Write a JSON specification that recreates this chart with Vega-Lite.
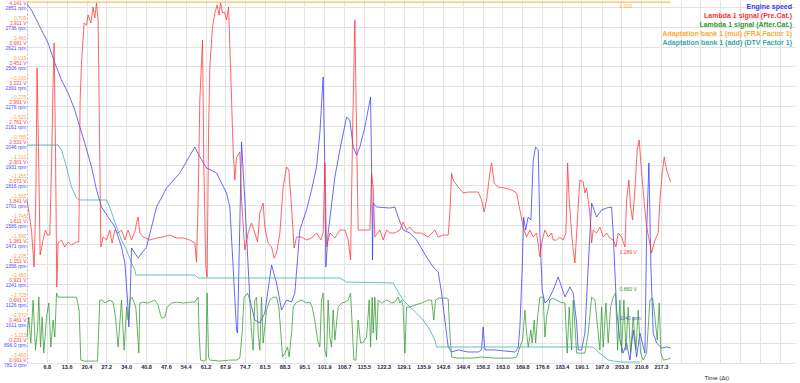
{
"$schema": "https://vega.github.io/schema/vega-lite/v6.json",
"width": 768, "height": 363,
"autosize": {"type": "none"},
"padding": {"left": 27, "top": 0, "right": 5, "bottom": 20},
"background": "white",
"config": {"view": {"stroke": null}, "font": "Liberation Sans"},
"datasets": {
"rpm": [{"t":0,"v":2868},{"t":1.54,"v":2833},{"t":3.26,"v":2775},{"t":4.97,"v":2717},{"t":7.24,"v":2641},{"t":9.53,"v":2525},{"t":11.83,"v":2426},{"t":14.09,"v":2351},{"t":16.39,"v":2252},{"t":18.11,"v":2153},{"t":19.82,"v":2060},{"t":22.12,"v":1921},{"t":23.83,"v":1787},{"t":25.55,"v":1688},{"t":27.81,"v":1630},{"t":30.11,"v":1572},{"t":32.4,"v":1455},{"t":33.54,"v":1362},{"t":34.46,"v":1147},{"t":34.91,"v":990},{"t":35.35,"v":1147},{"t":35.83,"v":1450},{"t":36.96,"v":1421},{"t":38.1,"v":1391},{"t":40.98,"v":1455},{"t":44.41,"v":1688},{"t":47.83,"v":1798},{"t":52.4,"v":1886},{"t":57.54,"v":2037},{"t":59.25,"v":1979},{"t":61.55,"v":1915},{"t":64.98,"v":1886},{"t":68.41,"v":1769},{"t":69.54,"v":1688},{"t":70.67,"v":1339},{"t":71.84,"v":973},{"t":72.18,"v":955},{"t":73.55,"v":2066},{"t":74.68,"v":1729},{"t":76.4,"v":1147},{"t":78.11,"v":1031},{"t":79.83,"v":1014},{"t":81.54,"v":1072},{"t":83.84,"v":1351},{"t":85.55,"v":1246},{"t":87.27,"v":1089},{"t":88.98,"v":1147},{"t":90.7,"v":1136},{"t":91.83,"v":1188},{"t":93.54,"v":1554},{"t":95.84,"v":1671},{"t":97.56,"v":1787},{"t":99.27,"v":1921},{"t":100.4,"v":2118},{"t":101.53,"v":2444},{"t":102.12,"v":1921},{"t":102.46,"v":1339},{"t":103.25,"v":1537},{"t":105.55,"v":1862},{"t":107.26,"v":2019},{"t":109.56,"v":2211},{"t":110.69,"v":2194},{"t":111.82,"v":2037},{"t":112.99,"v":1990},{"t":114.12,"v":2037},{"t":115.83,"v":2153},{"t":117.79,"v":2328},{"t":118.13,"v":1921},{"t":118.47,"v":1380},{"t":118.68,"v":1711},{"t":119.84,"v":1688},{"t":124.4,"v":1682},{"t":126.12,"v":1688},{"t":127.25,"v":1630},{"t":128.96,"v":1554},{"t":131.26,"v":1537},{"t":133.56,"v":1496},{"t":136.99,"v":1397},{"t":139.25,"v":1339},{"t":140.97,"v":1310},{"t":142.13,"v":1188},{"t":143.26,"v":1031},{"t":144.4,"v":874},{"t":145.56,"v":845},{"t":147.83,"v":857},{"t":151.26,"v":845},{"t":154.69,"v":845},{"t":155.85,"v":857},{"t":156.4,"v":990},{"t":156.98,"v":857},{"t":160.41,"v":857},{"t":163.84,"v":851},{"t":167.27,"v":845},{"t":168.4,"v":868},{"t":168.99,"v":990},{"t":169.78,"v":1339},{"t":170.26,"v":1630},{"t":170.94,"v":1554},{"t":171.84,"v":1630},{"t":172.76,"v":1612},{"t":173.55,"v":1961},{"t":174.37,"v":2037},{"t":175.27,"v":2019},{"t":175.85,"v":1537},{"t":176.63,"v":1205},{"t":177.56,"v":1130},{"t":178.69,"v":1147},{"t":180.4,"v":1205},{"t":182.12,"v":1281},{"t":183.28,"v":1223},{"t":184.42,"v":1165},{"t":186.13,"v":1223},{"t":187.26,"v":1188},{"t":188.43,"v":1014},{"t":188.97,"v":857},{"t":190.14,"v":857},{"t":191.27,"v":955},{"t":192.4,"v":1339},{"t":193.57,"v":1711},{"t":195.28,"v":1630},{"t":197.0,"v":1671},{"t":198.71,"v":1682},{"t":200.43,"v":1688},{"t":200.97,"v":1537},{"t":202.14,"v":1089},{"t":203.28,"v":915},{"t":204.4,"v":839},{"t":205.57,"v":897},{"t":206.7,"v":798},{"t":207.83,"v":973},{"t":209.0,"v":816},{"t":210.13,"v":955},{"t":211.85,"v":839},{"t":212.43,"v":1537},{"t":213.21,"v":1944},{"t":213.9,"v":1339},{"t":214.69,"v":955},{"t":215.85,"v":897},{"t":217.57,"v":868},{"t":219.28,"v":874},{"t":220.66,"v":868}],
"pre": [{"t":0,"v":1.896},{"t":0.38,"v":1.815},{"t":1.54,"v":1.547},{"t":2.43,"v":1.117},{"t":3.02,"v":1.896},{"t":3.46,"v":3.431},{"t":4.05,"v":2.28},{"t":4.49,"v":1.257},{"t":5.52,"v":1.431},{"t":6.34,"v":1.547},{"t":7.03,"v":1.489},{"t":7.82,"v":1.489},{"t":8.4,"v":2.28},{"t":8.95,"v":3.257},{"t":9.29,"v":3.722},{"t":9.77,"v":2.478},{"t":10.22,"v":0.885},{"t":10.66,"v":1.396},{"t":11.83,"v":1.431},{"t":12.96,"v":1.35},{"t":14.09,"v":1.408},{"t":15.26,"v":1.373},{"t":16.97,"v":1.408},{"t":17.76,"v":1.408},{"t":18.21,"v":3.059},{"t":18.69,"v":3.489},{"t":19.58,"v":3.954},{"t":20.4,"v":3.931},{"t":20.95,"v":4.047},{"t":21.88,"v":3.954},{"t":22.67,"v":4.14},{"t":23.25,"v":4.013},{"t":23.83,"v":4.187},{"t":24.38,"v":3.989},{"t":24.86,"v":2.675},{"t":25.31,"v":1.35},{"t":26.09,"v":1.466},{"t":27.26,"v":1.431},{"t":28.39,"v":1.547},{"t":29.18,"v":1.396},{"t":30.11,"v":1.547},{"t":31.24,"v":1.513},{"t":32.4,"v":1.547},{"t":33.54,"v":1.431},{"t":34.67,"v":1.547},{"t":35.83,"v":1.431},{"t":36.96,"v":1.524},{"t":37.55,"v":1.629},{"t":38.1,"v":1.699},{"t":38.68,"v":1.513},{"t":39.81,"v":1.466},{"t":42.11,"v":1.431},{"t":44.41,"v":1.455},{"t":46.67,"v":1.466},{"t":48.97,"v":1.489},{"t":51.26,"v":1.455},{"t":53.53,"v":1.455},{"t":55.82,"v":1.431},{"t":57.54,"v":1.396},{"t":58.12,"v":1.175},{"t":58.67,"v":1.896},{"t":59.25,"v":3.059},{"t":60.18,"v":3.757},{"t":60.63,"v":2.28},{"t":61.31,"v":1.117},{"t":61.76,"v":1.001},{"t":62.24,"v":2.675},{"t":62.68,"v":3.443},{"t":63.61,"v":3.908},{"t":64.4,"v":4.071},{"t":65.19,"v":4.164},{"t":65.87,"v":4.047},{"t":66.35,"v":4.187},{"t":67.04,"v":4.071},{"t":67.72,"v":4.082},{"t":68.41,"v":3.989},{"t":69.1,"v":4.14},{"t":69.78,"v":3.443},{"t":70.67,"v":2.478},{"t":71.25,"v":2.129},{"t":71.84,"v":2.396},{"t":72.97,"v":2.454},{"t":73.55,"v":1.896},{"t":74.68,"v":1.315},{"t":75.82,"v":1.513},{"t":76.98,"v":1.629},{"t":78.11,"v":1.513},{"t":79.04,"v":1.408},{"t":79.83,"v":1.745},{"t":80.96,"v":1.861},{"t":81.54,"v":1.582},{"t":82.67,"v":1.396},{"t":83.84,"v":1.35},{"t":84.73,"v":1.222},{"t":85.55,"v":1.28},{"t":86.69,"v":1.513},{"t":87.82,"v":2.047},{"t":88.98,"v":2.28},{"t":89.77,"v":2.245},{"t":90.7,"v":1.815},{"t":91.59,"v":1.338},{"t":92.41,"v":1.466},{"t":94.13,"v":1.466},{"t":95.84,"v":1.431},{"t":97.56,"v":1.455},{"t":99.27,"v":1.513},{"t":100.74,"v":1.431},{"t":101.53,"v":1.513},{"t":102.12,"v":2.327},{"t":102.7,"v":1.35},{"t":103.83,"v":1.513},{"t":105.55,"v":1.455},{"t":107.26,"v":1.547},{"t":108.98,"v":1.547},{"t":110.11,"v":1.431},{"t":110.93,"v":1.199},{"t":111.62,"v":2.675},{"t":112.4,"v":3.989},{"t":112.99,"v":2.675},{"t":113.54,"v":1.547},{"t":116.42,"v":1.547},{"t":117.55,"v":1.547},{"t":118.13,"v":2.21},{"t":118.68,"v":2.047},{"t":119.26,"v":1.466},{"t":120.97,"v":1.547},{"t":122.11,"v":1.431},{"t":123.27,"v":1.547},{"t":124.4,"v":1.513},{"t":126.12,"v":1.513},{"t":127.83,"v":1.547},{"t":128.96,"v":1.64},{"t":130.13,"v":1.547},{"t":131.26,"v":1.582},{"t":132.97,"v":1.513},{"t":135.27,"v":1.513},{"t":137.54,"v":1.466},{"t":139.83,"v":1.547},{"t":140.97,"v":1.466},{"t":142.68,"v":1.489},{"t":144.4,"v":1.489},{"t":144.98,"v":1.745},{"t":145.56,"v":2.21},{"t":146.11,"v":2.129},{"t":147.83,"v":2.047},{"t":149.54,"v":1.978},{"t":151.26,"v":1.989},{"t":154.69,"v":1.989},{"t":155.85,"v":1.896},{"t":156.74,"v":1.757},{"t":157.56,"v":1.896},{"t":158.69,"v":2.21},{"t":159.27,"v":2.327},{"t":160.17,"v":2.094},{"t":161.54,"v":2.047},{"t":163.84,"v":2.036},{"t":166.14,"v":2.013},{"t":167.85,"v":1.978},{"t":168.99,"v":1.78},{"t":170.12,"v":1.582},{"t":171.28,"v":1.466},{"t":172.41,"v":1.547},{"t":173.55,"v":1.466},{"t":174.71,"v":1.513},{"t":175.85,"v":1.234},{"t":176.63,"v":1.431},{"t":177.56,"v":1.547},{"t":178.69,"v":1.466},{"t":179.85,"v":1.513},{"t":180.4,"v":1.431},{"t":181.57,"v":1.431},{"t":182.7,"v":1.466},{"t":183.83,"v":1.431},{"t":184.76,"v":1.513},{"t":185.34,"v":2.327},{"t":185.89,"v":1.896},{"t":186.71,"v":1.513},{"t":187.26,"v":1.315},{"t":187.85,"v":1.164},{"t":188.97,"v":1.815},{"t":189.56,"v":2.129},{"t":190.69,"v":2.106},{"t":191.27,"v":1.978},{"t":191.85,"v":2.036},{"t":192.98,"v":1.745},{"t":193.57,"v":1.396},{"t":194.12,"v":1.547},{"t":195.28,"v":1.513},{"t":196.42,"v":1.582},{"t":197.55,"v":1.466},{"t":198.71,"v":1.513},{"t":199.84,"v":1.455},{"t":200.97,"v":1.431},{"t":201.9,"v":1.35},{"t":202.69,"v":1.513},{"t":203.85,"v":1.466},{"t":204.98,"v":1.35},{"t":205.57,"v":1.896},{"t":206.35,"v":2.129},{"t":206.94,"v":1.815},{"t":207.63,"v":1.664},{"t":208.42,"v":2.013},{"t":209.21,"v":2.478},{"t":209.89,"v":2.594},{"t":210.72,"v":2.21},{"t":211.51,"v":1.896},{"t":212.43,"v":1.582},{"t":213.32,"v":1.431},{"t":214.14,"v":1.28},{"t":215.28,"v":1.431},{"t":216.41,"v":1.513},{"t":216.99,"v":1.896},{"t":217.78,"v":2.21},{"t":218.47,"v":2.396},{"t":219.28,"v":2.245},{"t":220.66,"v":2.106}],
"post": [{"t":0,"v":0.302},{"t":0.62,"v":0.535},{"t":1.3,"v":0.233},{"t":2.09,"v":0.733},{"t":2.91,"v":0.151},{"t":3.6,"v":0.384},{"t":4.05,"v":0.767},{"t":4.63,"v":0.186},{"t":5.18,"v":0.535},{"t":5.76,"v":0.116},{"t":6.69,"v":0.535},{"t":7.48,"v":0.698},{"t":8.16,"v":0.186},{"t":8.95,"v":0.5},{"t":9.53,"v":0.302},{"t":10.12,"v":0.814},{"t":10.66,"v":0.767},{"t":12.96,"v":0.767},{"t":15.26,"v":0.767},{"t":16.97,"v":0.767},{"t":17.87,"v":0.616},{"t":18.45,"v":0.035},{"t":19.82,"v":0.023},{"t":22.12,"v":0.023},{"t":24.17,"v":0.023},{"t":24.96,"v":0.733},{"t":25.75,"v":0.733},{"t":26.68,"v":0.698},{"t":28.39,"v":0.733},{"t":29.52,"v":0.709},{"t":30.35,"v":0.535},{"t":31.24,"v":0.186},{"t":32.4,"v":0.733},{"t":33.3,"v":0.151},{"t":34.12,"v":0.651},{"t":34.67,"v":0.5},{"t":35.25,"v":0.733},{"t":36.04,"v":0.767},{"t":37.31,"v":0.651},{"t":37.89,"v":0.349},{"t":38.34,"v":0.116},{"t":38.68,"v":0.698},{"t":39.81,"v":0.709},{"t":41.53,"v":0.698},{"t":43.82,"v":0.733},{"t":44.95,"v":0.674},{"t":45.78,"v":0.558},{"t":46.33,"v":0.523},{"t":47.25,"v":0.535},{"t":48.04,"v":0.651},{"t":49.55,"v":0.698},{"t":51.26,"v":0.709},{"t":53.53,"v":0.698},{"t":55.82,"v":0.709},{"t":57.54,"v":0.709},{"t":58.67,"v":0.767},{"t":59.01,"v":0.349},{"t":59.49,"v":0.035},{"t":60.63,"v":0.023},{"t":61.31,"v":0.035},{"t":61.76,"v":0.814},{"t":62.24,"v":0.07},{"t":62.68,"v":0.035},{"t":66.11,"v":0.023},{"t":69.54,"v":0.035},{"t":71.84,"v":0.035},{"t":72.97,"v":0.058},{"t":73.76,"v":0.349},{"t":74.44,"v":0.767},{"t":75.61,"v":0.814},{"t":76.4,"v":0.733},{"t":76.98,"v":0.349},{"t":77.53,"v":0.151},{"t":78.11,"v":0.733},{"t":78.7,"v":0.767},{"t":79.25,"v":0.349},{"t":79.83,"v":0.151},{"t":80.41,"v":0.767},{"t":80.96,"v":0.233},{"t":82.12,"v":0.616},{"t":83.26,"v":0.733},{"t":84.39,"v":0.767},{"t":85.55,"v":0.767},{"t":86.34,"v":0.651},{"t":87.03,"v":0.349},{"t":87.61,"v":0.07},{"t":88.4,"v":0.116},{"t":89.32,"v":0.186},{"t":89.87,"v":0.07},{"t":90.7,"v":0.349},{"t":91.25,"v":0.651},{"t":92.41,"v":0.709},{"t":94.13,"v":0.733},{"t":95.84,"v":0.698},{"t":96.97,"v":0.709},{"t":97.76,"v":0.651},{"t":98.68,"v":0.5},{"t":99.61,"v":0.267},{"t":100.4,"v":0.186},{"t":100.98,"v":0.733},{"t":101.53,"v":0.814},{"t":102.12,"v":0.151},{"t":102.7,"v":0.07},{"t":103.25,"v":0.733},{"t":103.83,"v":0.302},{"t":104.41,"v":0.186},{"t":104.96,"v":0.616},{"t":105.55,"v":0.267},{"t":106.68,"v":0.651},{"t":107.84,"v":0.698},{"t":108.98,"v":0.709},{"t":110.11,"v":0.733},{"t":110.93,"v":0.814},{"t":111.62,"v":0.349},{"t":112.06,"v":0.035},{"t":112.75,"v":0.035},{"t":113.54,"v":0.5},{"t":114.36,"v":0.233},{"t":115.25,"v":0.244},{"t":116.42,"v":0.302},{"t":117.31,"v":0.733},{"t":117.79,"v":0.186},{"t":118.34,"v":0.767},{"t":118.68,"v":0.349},{"t":119.26,"v":0.767},{"t":119.84,"v":0.267},{"t":120.39,"v":0.733},{"t":121.55,"v":0.698},{"t":123.27,"v":0.733},{"t":124.99,"v":0.698},{"t":126.12,"v":0.709},{"t":127.25,"v":0.767},{"t":127.83,"v":0.698},{"t":128.42,"v":0.733},{"t":128.96,"v":0.651},{"t":129.55,"v":0.116},{"t":130.13,"v":0.651},{"t":131.26,"v":0.651},{"t":132.97,"v":0.674},{"t":135.27,"v":0.698},{"t":137.54,"v":0.733},{"t":138.7,"v":0.733},{"t":139.48,"v":0.5},{"t":140.07,"v":0.733},{"t":140.97,"v":0.756},{"t":143.85,"v":0.756},{"t":144.4,"v":0.744},{"t":144.98,"v":0.349},{"t":145.56,"v":0.07},{"t":147.83,"v":0.058},{"t":152.42,"v":0.058},{"t":155.85,"v":0.07},{"t":160.41,"v":0.058},{"t":166.14,"v":0.058},{"t":167.85,"v":0.07},{"t":168.99,"v":0.186},{"t":169.91,"v":0.267},{"t":170.7,"v":0.616},{"t":171.28,"v":0.349},{"t":171.84,"v":0.186},{"t":172.76,"v":0.384},{"t":173.2,"v":0.233},{"t":173.89,"v":0.5},{"t":174.37,"v":0.233},{"t":175.05,"v":0.535},{"t":175.85,"v":0.767},{"t":176.98,"v":0.767},{"t":177.56,"v":0.302},{"t":178.14,"v":0.535},{"t":179.27,"v":0.733},{"t":180.4,"v":0.756},{"t":182.7,"v":0.709},{"t":184.42,"v":0.698},{"t":185.2,"v":0.116},{"t":185.89,"v":0.651},{"t":186.71,"v":0.151},{"t":187.26,"v":0.733},{"t":188.43,"v":0.116},{"t":191.27,"v":0.116},{"t":192.4,"v":0.349},{"t":193.57,"v":0.767},{"t":194.7,"v":0.733},{"t":195.83,"v":0.349},{"t":196.42,"v":0.151},{"t":197.0,"v":0.651},{"t":197.55,"v":0.186},{"t":198.47,"v":0.698},{"t":199.26,"v":0.233},{"t":200.08,"v":0.651},{"t":200.97,"v":0.767},{"t":201.79,"v":0.814},{"t":202.48,"v":0.151},{"t":203.28,"v":0.733},{"t":203.85,"v":0.116},{"t":204.64,"v":0.733},{"t":205.33,"v":0.151},{"t":206.12,"v":0.651},{"t":206.94,"v":0.116},{"t":207.83,"v":0.535},{"t":208.76,"v":0.151},{"t":209.55,"v":0.616},{"t":210.37,"v":0.116},{"t":211.26,"v":0.035},{"t":212.43,"v":0.116},{"t":213.56,"v":0.733},{"t":214.49,"v":0.756},{"t":215.28,"v":0.535},{"t":216.07,"v":0.267},{"t":216.75,"v":0.698},{"t":217.34,"v":0.116},{"t":218.13,"v":0.035},{"t":219.85,"v":0.047},{"t":220.66,"v":0.058}],
"mul": [{"t":0,"v":1.01},{"t":220.66,"v":1.01}],
"add": [{"t":0,"v":-0.76},{"t":10.66,"v":-0.76},{"t":11.83,"v":-0.822},{"t":13.54,"v":-1.032},{"t":15.26,"v":-1.28},{"t":16.97,"v":-1.416},{"t":18.11,"v":-1.441},{"t":27.26,"v":-1.441},{"t":28.39,"v":-1.528},{"t":29.52,"v":-1.652},{"t":30.69,"v":-1.776},{"t":32.4,"v":-1.937},{"t":34.12,"v":-2.06},{"t":35.83,"v":-2.221},{"t":36.96,"v":-2.308},{"t":37.31,"v":-2.37},{"t":57.54,"v":-2.37},{"t":58.67,"v":-2.407},{"t":107.26,"v":-2.407},{"t":109.56,"v":-2.457},{"t":125.54,"v":-2.469},{"t":127.25,"v":-2.581},{"t":128.96,"v":-2.68},{"t":131.26,"v":-2.766},{"t":133.56,"v":-2.841},{"t":135.82,"v":-2.927},{"t":138.12,"v":-3.051},{"t":139.83,"v":-3.175},{"t":140.42,"v":-3.262},{"t":194.12,"v":-3.262},{"t":195.83,"v":-3.324},{"t":197.55,"v":-3.373},{"t":199.26,"v":-3.423},{"t":200.97,"v":-3.435},{"t":203.85,"v":-3.448},{"t":210.13,"v":-3.448}],
"cur_rpm": [{"t":202.1,"v":1040,"label":"1040 rpm"}],
"cur_v": [{"t":202.1,"v":1.289,"label":"1.289 V","c":"pre"},{"t":202.1,"v":0.86,"label":"0.860 V","c":"post"}],
"cur_mul": [{"t":202.1,"v":1.01,"label":"1.010"}]
},
"encoding": {
  "x": {"field": "t", "type": "quantitative",
    "scale": {"domain": [0, 263.3], "nice": false, "zero": false},
    "axis": {"values": [6.8,13.6,20.4,27.2,34.0,40.8,47.6,54.4,61.2,67.9,74.7,81.5,88.3,95.1,101.9,108.7,115.5,122.3,129.1,135.9,142.6,149.4,156.2,163.0,169.8,176.6,183.4,190.1,197.0,203.8,210.6,217.3,224.1,230.9,237.7,244.5,251.3,258.0],
      "labelExpr": "datum.value > 218 ? '' : format(datum.value, '.1f')",
      "labelFontSize": 5.5, "labelFontWeight": "bold", "labelColor": "#22224a", "labelFlush": false, "labelOverlap": false,
      "ticks": false, "domain": false, "grid": true, "gridColor": "#e3e3e3", "labelPadding": 1,
      "title": "Time (Δt)", "titleX": 677, "titleY": 14, "titleAlign": "left", "titleBaseline": "middle", "titleFontSize": 6, "titleFontWeight": "normal", "titleColor": "#222"}}
},
"layer": [
  {"encoding": {"y": {"field": "v", "type": "quantitative",
      "scale": {"domain": [781, 2891.5], "nice": false, "zero": false},
      "axis": {"orient": "left", "values": [781,896,1011,1126,1241,1356,1471,1586,1701,1816,1931,2046,2161,2276,2391,2506,2621,2736,2851],
        "labelExpr": "(datum.value < 1000 ? format(datum.value, '.1f') : format(datum.value, '.0f')) + ' rpm'",
        "labelColor": "#4a4aff", "labelFontSize": 5, "labelPadding": 1, "labelOffset": 1, "labelFlush": false, "labelOverlap": false,
        "ticks": false, "domain": true, "domainColor": "#b0b0ff", "domainDash": [2, 2], "grid": true, "gridColor": "#e3e3e3", "title": null}}},
   "layer": [
     {"data": {"name": "rpm"}, "mark": {"type": "line", "strokeWidth": 1, "opacity": 0.75},
      "encoding": {"color": {"datum": "Engine speed", "type": "nominal",
        "scale": {"domain": ["Engine speed", "Lambda 1 signal (Pre.Cat.)", "Lambda 1 signal (After.Cat.)", "Adaptation bank 1 (mul) (FRA Factor 1)", "Adaptation bank 1 (add) (DTV Factor 1)"],
                  "range": ["#3636ff", "#ff3030", "#2e9a2e", "#ffaa33", "#33aaaa"]},
        "legend": {"orient": "top-right", "offset": 3, "title": null, "symbolSize": 0, "symbolStrokeWidth": 0, "symbolOpacity": 0,
          "labelAlign": "right", "labelFontSize": 7, "labelFontWeight": "bold", "rowPadding": 1, "labelLimit": 400, "padding": 0,
          "encode": {"labels": {"update": {"fill": {"scale": "color", "field": "value"}}}}}}}},
     {"data": {"name": "cur_rpm"}, "mark": {"type": "text", "align": "left", "dx": 3, "fontSize": 5, "color": "#4a4aff"},
      "encoding": {"text": {"field": "label"}}}
   ]},
  {"encoding": {"y": {"field": "v", "type": "quantitative",
      "scale": {"domain": [0.001, 4.222], "nice": false, "zero": false},
      "axis": {"orient": "left", "values": [0.001,0.231,0.461,0.691,0.921,1.151,1.381,1.611,1.841,2.071,2.301,2.531,2.761,2.991,3.221,3.451,3.681,3.911,4.141],
        "labelExpr": "format(datum.value, '.3f') + ' V'",
        "labelColor": "#ff4040", "labelFontSize": 5, "labelPadding": 1, "labelOffset": -4, "labelFlush": false, "labelOverlap": false,
        "ticks": false, "domain": false, "grid": false, "title": null}}},
   "layer": [
     {"data": {"name": "pre"}, "mark": {"type": "line", "strokeWidth": 1, "opacity": 0.75},
      "encoding": {"color": {"datum": "Lambda 1 signal (Pre.Cat.)", "type": "nominal"}}},
     {"data": {"name": "post"}, "mark": {"type": "line", "strokeWidth": 1, "opacity": 0.75},
      "encoding": {"color": {"datum": "Lambda 1 signal (After.Cat.)", "type": "nominal"}}},
     {"data": {"name": "cur_v"}, "mark": {"type": "text", "align": "left", "dx": 3, "fontSize": 5},
      "encoding": {"text": {"field": "label"},
        "color": {"condition": {"test": "datum.c == 'pre'", "value": "#ff4040"}, "value": "#2e9a2e"}}}
   ]},
  {"encoding": {"y": {"field": "v", "type": "quantitative",
      "scale": {"domain": [-3.46, 1.036], "nice": false, "zero": false},
      "axis": {"orient": "left", "values": [-3.46,-3.215,-2.97,-2.725,-2.48,-2.235,-1.99,-1.745,-1.5,-1.255,-1.01,-0.765,-0.52,-0.275,-0.03,0.215,0.46,0.705],
        "labelExpr": "format(datum.value, '.3f')",
        "labelColor": "#ffa433", "labelFontSize": 5, "labelPadding": 1, "labelOffset": -9, "labelFlush": false, "labelOverlap": false,
        "ticks": false, "domain": false, "grid": false, "title": null}}},
   "layer": [
     {"data": {"name": "mul"}, "mark": {"type": "line", "strokeWidth": 1.2, "opacity": 0.8},
      "encoding": {"color": {"datum": "Adaptation bank 1 (mul) (FRA Factor 1)", "type": "nominal"}}},
     {"data": {"name": "add"}, "mark": {"type": "line", "strokeWidth": 1, "opacity": 0.75},
      "encoding": {"color": {"datum": "Adaptation bank 1 (add) (DTV Factor 1)", "type": "nominal"}}},
     {"data": {"name": "cur_mul"}, "mark": {"type": "text", "align": "left", "dx": 3, "dy": 4, "fontSize": 5, "color": "#ffa433"},
      "encoding": {"text": {"field": "label"}}}
   ]},
  {"data": {"values": [{}]}, "mark": {"type": "rule", "color": "#808080", "strokeWidth": 2.5, "strokeDash": [1.5, 1.5]},
   "encoding": {"x": {"datum": 202.1, "type": "quantitative"}}}
],
"resolve": {"scale": {"y": "independent"}, "axis": {"y": "independent"}}
}
